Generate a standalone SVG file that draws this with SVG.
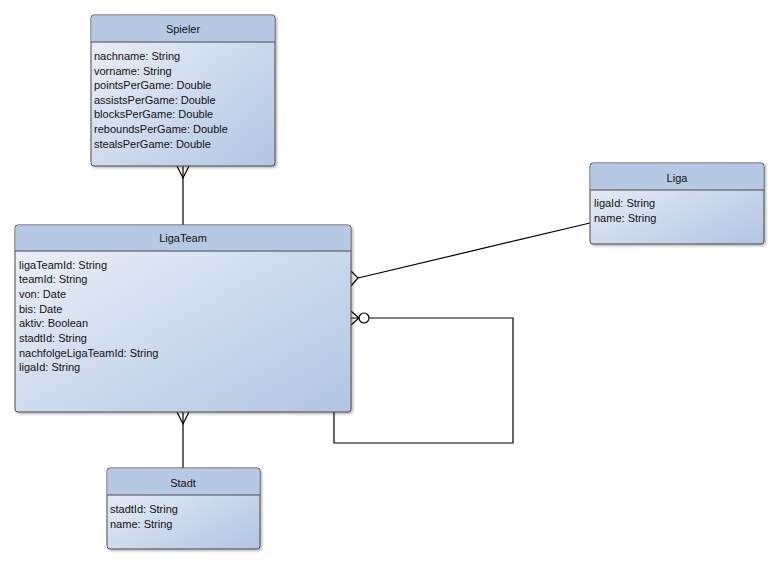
<svg xmlns="http://www.w3.org/2000/svg" width="778" height="565" viewBox="0 0 778 565">
<defs>
<linearGradient id="body" x1="0" y1="0" x2="1" y2="1">
<stop offset="0" stop-color="#eef2f9"/><stop offset="1" stop-color="#b1c5e3"/>
</linearGradient>
<filter id="sh" x="-5%" y="-5%" width="115%" height="115%"><feDropShadow dx="1.5" dy="1.5" stdDeviation="1.2" flood-color="#000" flood-opacity="0.3"/></filter>
</defs>
<style>
.box{fill:url(#body);stroke:#4a4a4a;stroke-width:1;filter:url(#sh)}
.hd{fill:#b6c8e4}
.sep{stroke:#4a4a4a;stroke-width:1}
text{font-family:"Liberation Sans",Arial,sans-serif;font-size:11px;fill:#111}
.t{text-anchor:middle}
.c{fill:none;stroke:#000;stroke-width:1.2}
</style>
<rect width="778" height="565" fill="#fff"/>
<g id="connectors">
<path class="c" d="M183 166V225"/>
<path class="c" d="M177 166L183 178L189 166"/>
<path class="c" d="M183 412V468"/>
<path class="c" d="M177 412L183 424L189 412"/>
<path class="c" d="M358 278L590 223"/>
<path class="c" d="M351 271L358 278L351 286"/>
<path class="c" d="M369 318H513V443H334V412"/>
<path class="c" d="M351 311L359 318L351 325M351 318H359"/>
<circle class="c" cx="364" cy="318" r="5" fill="#fff"/>
</g>
<g id="Spieler">
<rect class="box" x="91" y="15" width="184" height="151" rx="3"/>
<path class="hd" d="M94 15.5H272Q274.5 15.5 274.5 18V42H91.5V18Q91.5 15.5 94 15.5Z"/>
<line class="sep" x1="91" y1="42" x2="275" y2="42"/>
<text class="t" x="183" y="33">Spieler</text>
<text x="94" y="60">nachname: String</text>
<text x="94" y="75">vorname: String</text>
<text x="94" y="89">pointsPerGame: Double</text>
<text x="94" y="104">assistsPerGame: Double</text>
<text x="94" y="118">blocksPerGame: Double</text>
<text x="94" y="133">reboundsPerGame: Double</text>
<text x="94" y="148">stealsPerGame: Double</text>
</g>
<g id="LigaTeam">
<rect class="box" x="15" y="225" width="336" height="187" rx="3"/>
<path class="hd" d="M18 225.5H348Q350.5 225.5 350.5 228V251H15.5V228Q15.5 225.5 18 225.5Z"/>
<line class="sep" x1="15" y1="251" x2="351" y2="251"/>
<text class="t" x="183" y="242">LigaTeam</text>
<text x="19" y="269">ligaTeamId: String</text>
<text x="19" y="283">teamId: String</text>
<text x="19" y="298">von: Date</text>
<text x="19" y="313">bis: Date</text>
<text x="19" y="327">aktiv: Boolean</text>
<text x="19" y="342">stadtId: String</text>
<text x="19" y="357">nachfolgeLigaTeamId: String</text>
<text x="19" y="371">ligaId: String</text>
</g>
<g id="Liga">
<rect class="box" x="590" y="163" width="174" height="81" rx="3"/>
<path class="hd" d="M593 163.5H761Q763.5 163.5 763.5 166V190H590.5V166Q590.5 163.5 593 163.5Z"/>
<line class="sep" x1="590" y1="190" x2="764" y2="190"/>
<text class="t" x="677" y="182">Liga</text>
<text x="594" y="207">ligaId: String</text>
<text x="594" y="222">name: String</text>
</g>
<g id="Stadt">
<rect class="box" x="107" y="468" width="153" height="81" rx="3"/>
<path class="hd" d="M110 468.5H257Q259.5 468.5 259.5 471V495H107.5V471Q107.5 468.5 110 468.5Z"/>
<line class="sep" x1="107" y1="495" x2="260" y2="495"/>
<text class="t" x="183" y="487">Stadt</text>
<text x="110" y="513">stadtId: String</text>
<text x="110" y="528">name: String</text>
</g>
</svg>
